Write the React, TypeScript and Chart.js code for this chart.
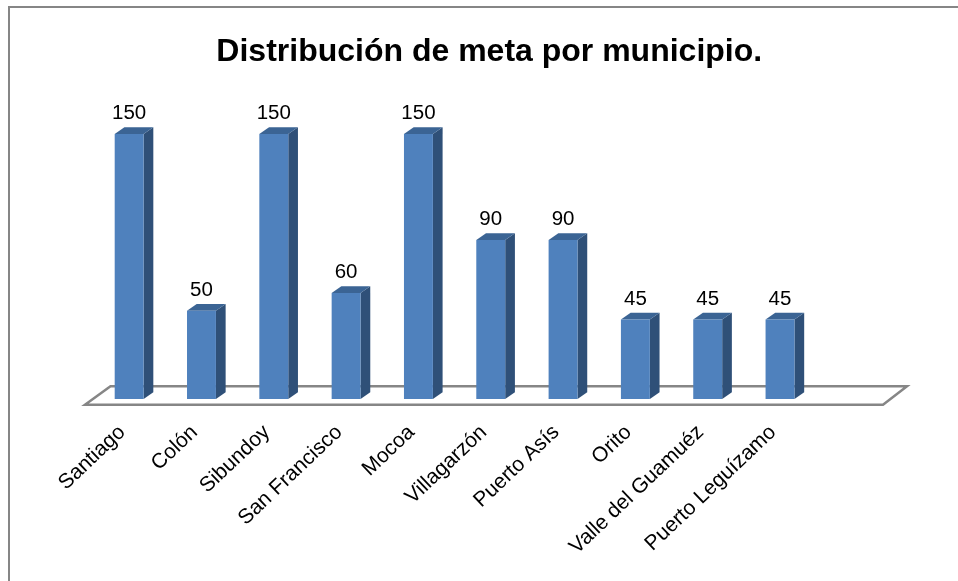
import { useEffect, useRef } from "react";
import { Chart, registerables } from "chart.js";

Chart.register(...registerables);

const titleText = "Distribución de meta por municipio.";
const categories = ["Santiago", "Colón", "Sibundoy", "San Francisco", "Mocoa", "Villagarzón", "Puerto Asís", "Orito", "Valle del Guamuéz", "Puerto Leguízamo", ""];
const metaValues = [150, 50, 150, 60, 150, 90, 90, 45, 45, 45, null];
const FONT = "'Liberation Sans', Arial, sans-serif";
const GREY = "#868686";

const depth3d = {
  id: "depth3d",
  beforeDraw(chart: any) {
    const { ctx, width, height } = chart;
    ctx.save();
    ctx.fillStyle = "#ffffff";
    ctx.fillRect(0, 0, width, height);
    ctx.strokeStyle = GREY;
    ctx.lineWidth = 2;
    ctx.beginPath();
    ctx.moveTo(9, height + 2);
    ctx.lineTo(9, 7);
    ctx.lineTo(width + 2, 7);
    ctx.stroke();
    ctx.restore();
  },
  beforeDatasetsDraw(chart: any) {
    const { ctx, chartArea } = chart;
    const baseY = chartArea.bottom;
    ctx.save();
    ctx.strokeStyle = GREY;
    ctx.lineWidth = 2.5;
    ctx.lineJoin = "miter";
    ctx.beginPath();
    ctx.moveTo(chartArea.left - 8, baseY + 5.7);
    ctx.lineTo(chartArea.right - 5.5, baseY + 5.7);
    ctx.lineTo(chartArea.right + 18.5, baseY - 12.8);
    ctx.lineTo(chartArea.left + 17.5, baseY - 12.8);
    ctx.closePath();
    ctx.stroke();

    const dx = 9.7;
    const dy = 6.8;
    chart.getDatasetMeta(0).data.forEach((bar: any, i: number) => {
      if (metaValues[i] == null) return;
      const p = bar.getProps(["x", "y", "base", "width"], true);
      const l = p.x - p.width / 2;
      const r = p.x + p.width / 2;
      ctx.fillStyle = "#2F5078";
      ctx.beginPath();
      ctx.moveTo(r, p.y);
      ctx.lineTo(r + dx, p.y - dy);
      ctx.lineTo(r + dx, p.base - dy);
      ctx.lineTo(r, p.base);
      ctx.closePath();
      ctx.fill();
      ctx.fillStyle = "#3B6494";
      ctx.beginPath();
      ctx.moveTo(l, p.y);
      ctx.lineTo(l + dx, p.y - dy);
      ctx.lineTo(r + dx, p.y - dy);
      ctx.lineTo(r, p.y);
      ctx.closePath();
      ctx.fill();
    });
    ctx.restore();
  },
  afterDatasetsDraw(chart: any) {
    const { ctx } = chart;
    ctx.save();
    ctx.fillStyle = "#000000";
    ctx.font = `20.5px ${FONT}`;
    ctx.textAlign = "center";
    ctx.textBaseline = "alphabetic";
    chart.getDatasetMeta(0).data.forEach((bar: any, i: number) => {
      const v = metaValues[i];
      if (v == null) return;
      const p = bar.getProps(["x", "y"], true);
      ctx.fillText(String(v), p.x, p.y - 15);
    });
    ctx.restore();
  },
};

export default function App() {
  const ref = useRef<HTMLCanvasElement | null>(null);
  useEffect(() => {
    const chart = new Chart(ref.current!, {
      type: "bar",
      data: {
        labels: categories,
        datasets: [
          {
            data: metaValues,
            backgroundColor: "#4F81BD",
            borderWidth: 0,
            barPercentage: 0.4,
            categoryPercentage: 1,
          },
        ],
      },
      options: {
        responsive: false,
        animation: false,
        layout: { padding: { left: 90, right: 69.5, top: 0, bottom: 0 } },
        plugins: {
          legend: { display: false },
          tooltip: { enabled: false },
          title: {
            display: true,
            text: titleText,
            color: "#000000",
            font: { family: FONT, size: 32, weight: "bold" },
            padding: { top: 33, bottom: 45 },
          },
        },
        scales: {
          x: {
            border: { display: false },
            grid: { display: false, drawTicks: false },
            afterFit: (s: any) => {
              s.height = 182;
            },
            ticks: {
              color: "#000000",
              font: { family: FONT, size: 21 },
              minRotation: 43.5,
              maxRotation: 43.5,
              autoSkip: false,
              padding: 21,
              labelOffset: -7,
            },
          },
          y: {
            min: 0,
            max: 160,
            border: { display: false },
            grid: { display: false, drawTicks: false },
            ticks: { display: false },
            afterFit: (s: any) => {
              s.width = 3;
            },
          },
        },
      },
      plugins: [depth3d],
    } as any);
    return () => chart.destroy();
  }, []);
  return (
    <div style={{ position: "fixed", left: 0, top: 0 }}>
      <canvas ref={ref} width={958} height={581} style={{ display: "block" }} />
    </div>
  );
}
